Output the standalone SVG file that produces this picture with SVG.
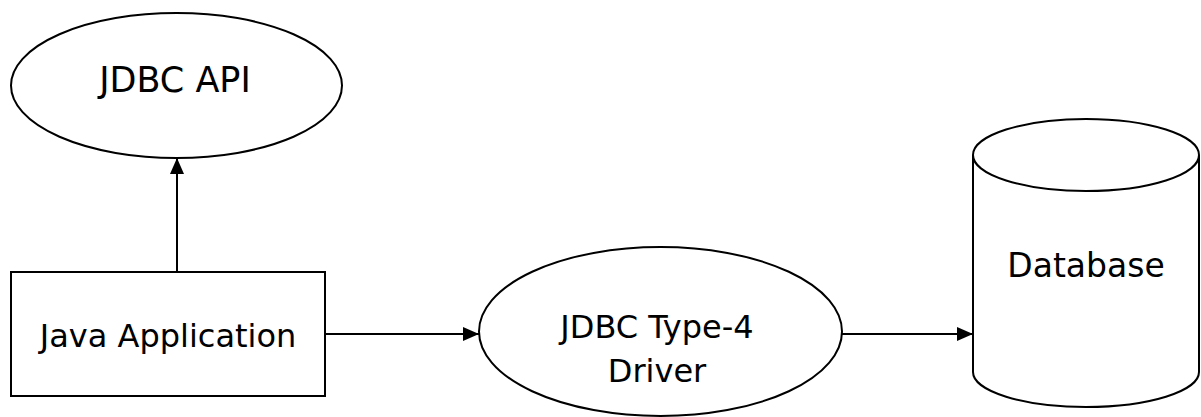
<svg xmlns="http://www.w3.org/2000/svg" width="1201" height="417" viewBox="0 0 1201 417">
<style>
.shape{fill:#fff;stroke:#000;stroke-width:2}
.lbl{font-family:"DejaVu Sans",Verdana,sans-serif;fill:#000;text-anchor:middle}
.conn{stroke:#000;stroke-width:2;fill:none;marker-end:url(#arr)}
</style>
<defs>
<marker id="arr" markerWidth="16" markerHeight="14" refX="16" refY="7" orient="auto" markerUnits="userSpaceOnUse">
<path d="M0,0 L16,7 L0,14 Z" fill="#000"/>
</marker>
</defs>
<rect width="1201" height="417" fill="#fff"/>
<g id="connectors">
<line class="conn" x1="177" y1="272" x2="177" y2="158"/>
<line class="conn" x1="325" y1="334" x2="479" y2="334"/>
<line class="conn" x1="842" y1="334" x2="973" y2="334"/>
</g>
<g id="jdbc-api">
<ellipse class="shape" cx="176.5" cy="85.5" rx="165.5" ry="72.5"/>
<text class="lbl" x="175" y="92" font-size="35">JDBC API</text>
</g>
<g id="java-app">
<rect class="shape" x="11" y="272" width="314" height="124"/>
<text class="lbl" x="168" y="347" font-size="32">Java Application</text>
</g>
<g id="driver">
<ellipse class="shape" cx="660.5" cy="331.5" rx="181.5" ry="84.5"/>
<text class="lbl" x="657" y="338" font-size="32">JDBC Type-4</text>
<text class="lbl" x="657" y="382" font-size="32">Driver</text>
</g>
<g id="database">
<path class="shape" d="M973,155 L973,372 A113,35 0 0 0 1199,372 L1199,155"/>
<ellipse class="shape" cx="1086" cy="155" rx="113" ry="36"/>
<text class="lbl" x="1086" y="277" font-size="33">Database</text>
</g>
</svg>
